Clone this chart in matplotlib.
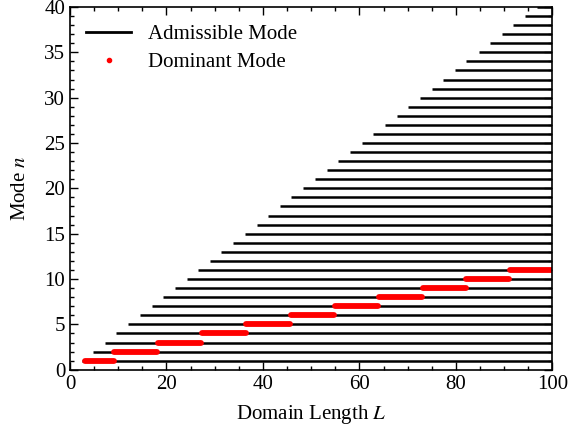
import matplotlib
matplotlib.use('Agg')
import matplotlib.pyplot as plt
from matplotlib.lines import Line2D
from matplotlib.ticker import MultipleLocator

# ===== データ =====
# 各モード n の許容開始長 L (読み取り値)
modes = list(range(1, 41))
admissible_start = [2.4, 4.8, 7.2, 9.6, 12.1, 14.5, 16.9, 19.3, 21.7, 24.2,
                    26.6, 29.0, 31.4, 33.8, 36.3, 38.7, 41.1, 43.5, 45.9, 48.4,
                    50.8, 53.2, 55.6, 58.0, 60.5, 62.9, 65.3, 67.7, 70.1, 72.6,
                    75.0, 77.4, 79.8, 82.2, 84.7, 87.1, 89.5, 91.9, 94.3, 96.8]
L_max = 100

# 支配的モードの区間
dom_modes = [1, 2, 3, 4, 5, 6, 7, 8, 9, 10, 11]
dom_start = [3.2, 9.1, 18.3, 27.4, 36.5, 45.8, 55.0, 64.1, 73.2, 82.2, 91.3]
dom_end = [9.1, 18.1, 27.2, 36.4, 45.6, 54.8, 63.9, 73.0, 82.1, 91.1, 100.0]

# ===== スタイル =====
plt.rcParams['font.family'] = ['Liberation Serif', 'DejaVu Serif']
plt.rcParams['mathtext.fontset'] = 'stix'
fs = 15

fig = plt.figure(figsize=(5.70, 4.34), dpi=100)
ax = fig.add_axes([0.1228, 0.148, 0.969 - 0.1228, 0.984 - 0.148])

# 許容モード
for n, s in zip(modes, admissible_start):
    ax.plot([s, L_max], [n, n], color='black', lw=1.8, solid_capstyle='butt')

# 支配モード
for n, s, e in zip(dom_modes, dom_start, dom_end):
    ax.plot([s, e], [n, n], color='red', lw=4.2, solid_capstyle='round')

ax.set_xlim(0, 100)
ax.set_ylim(0, 40)
ax.xaxis.set_major_locator(MultipleLocator(20))
ax.xaxis.set_minor_locator(MultipleLocator(5))
ax.yaxis.set_major_locator(MultipleLocator(5))
ax.yaxis.set_minor_locator(MultipleLocator(1))
ax.tick_params(which='both', direction='in', top=True, right=True, labelsize=fs)
ax.tick_params(which='major', length=6, width=1)
ax.tick_params(which='minor', length=3, width=1)
for sp in ax.spines.values():
    sp.set_linewidth(1.2)

ax.set_xlabel(r'Domain Length $L$', fontsize=fs, labelpad=7)
ax.set_ylabel(r'Mode $n$', fontsize=fs, labelpad=10)

handles = [Line2D([], [], color='black', lw=2.0),
           Line2D([], [], color='red', marker='.', ls='none', markersize=6)]
ax.legend(handles, ['Admissible Mode', 'Dominant Mode'], loc='upper left',
          frameon=False, handlelength=2.15, handletextpad=0.8, labelspacing=0.4,
          bbox_to_anchor=(-0.005, 1.003), fontsize=fs)

plt.savefig('out.png', dpi=100)
